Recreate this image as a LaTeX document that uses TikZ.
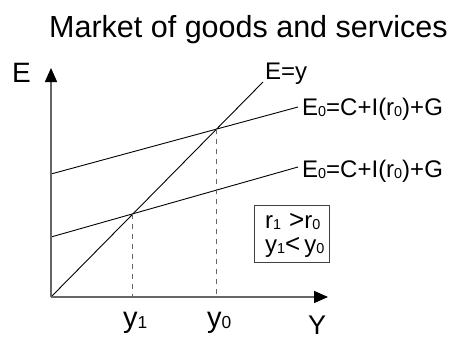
\documentclass[tikz,border=0pt]{standalone}
\usepackage{fontspec}
\usepackage{graphicx}
\setmainfont{Liberation Sans}
\usetikzlibrary{arrows.meta}
\newcommand{\lo}[1]{\raisebox{-0.06em}{\scalebox{0.6}{#1}}}
\newcommand{\fs}[1]{\fontsize{#1}{#1}\selectfont}

\begin{document}
\begin{tikzpicture}[
  x=1pt, y=-1pt,
  axis/.style={draw=black!60, line width=1.5pt, -{Triangle[length=14pt,width=12pt,black]}},
  curve/.style={draw=black, line width=0.9pt},
  guide/.style={draw=black!60, line width=1pt, dash pattern=on 5pt off 5pt},
  lbl/.style={inner sep=0pt, anchor=base west},
  note/.style={draw=black!75, line width=0.8pt, inner sep=0pt, minimum width=75pt, minimum height=57pt}
]
\useasboundingbox (0,0) rectangle (450,340);
% points
\coordinate (O) at (51,297);
\coordinate (ytop) at (51,68);
\coordinate (xend) at (328,297);
\coordinate (eyend) at (263,82);
\coordinate (hi0) at (51,174);
\coordinate (hi1) at (298,107);
\coordinate (lo0) at (51,237);
\coordinate (lo1) at (298,167);
\coordinate (A) at (132,214);
\coordinate (B) at (216,129);
\coordinate (Ax) at (132,297);
\coordinate (Bx) at (216,297);
% title and axis labels
\node[lbl] (title) at (49,37) {\fs{30.5}Market of goods and services};
\node[lbl] (Elab) at (12,82) {\fs{28}E};
\node[lbl] (Ylab) at (308,334) {\fs{27}Y};
\node[lbl] (y1) at (123,327) {\fs{29}y\lo{1}};
\node[lbl] (y0) at (207,327) {\fs{29}y\lo{0}};
% curves
\draw[curve] (O) -- (eyend);
\draw[curve] (hi0) -- (hi1);
\draw[curve] (lo0) -- (lo1);
\draw[guide] (A) -- (Ax);
\draw[guide] (B) -- (Bx);
\draw[axis] (O) -- (ytop);
\draw[axis] (O) -- (xend);
\node[lbl] (ey) at (265,79) {\fs{24}E=y};
\node[lbl] (hilab) at (302,115) {\fs{24}E\lo{0}=C+I(r\lo{0})+G};
\node[lbl] (lolab) at (302,177) {\fs{24}E\lo{0}=C+I(r\lo{0})+G};
\node[note, anchor=north west] (box) at (254,205) {};
\node[lbl] (r) at (265,228) {\fs{24}r\lo{1}\,\,{\fs{26}>}r\lo{0}};
\node[lbl] (yy) at (265,252) {\fs{24}y\lo{1}{\fs{26}<}\,y\lo{0}};
\end{tikzpicture}
\end{document}
